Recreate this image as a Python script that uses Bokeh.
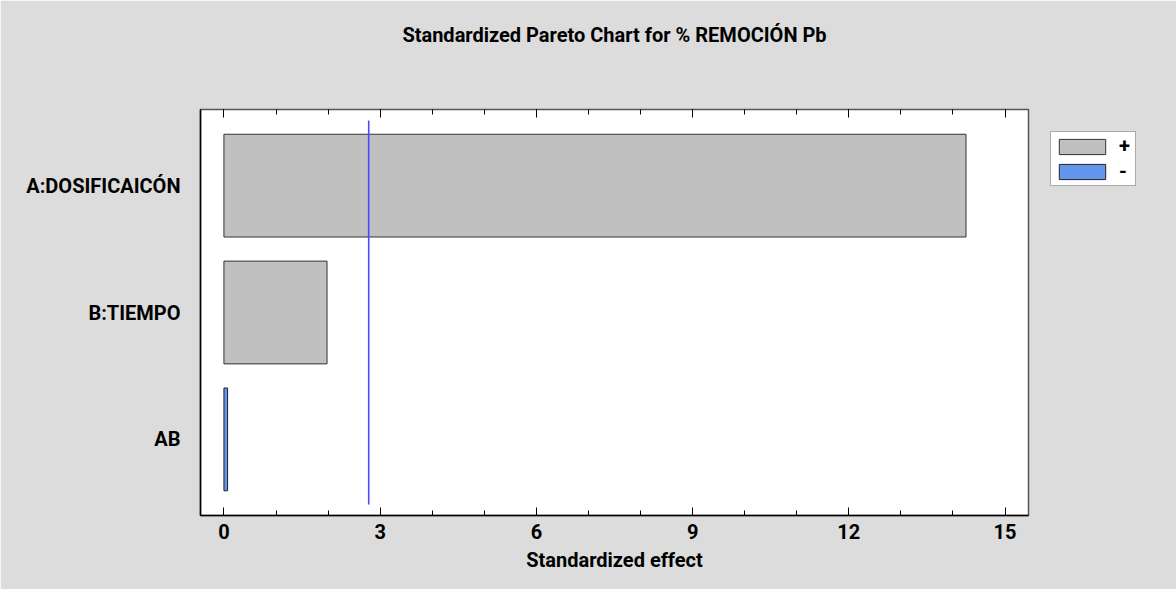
from bokeh.plotting import figure
from bokeh.models import (FactorRange, Range1d, LinearAxis, SingleIntervalTicker,
                          Legend, LegendItem, ColumnDataSource, CustomJSTickFormatter)
from bokeh.embed import file_html
from bokeh.resources import INLINE

# ---- data ----
effects = ["A:DOSIFICAICÓN", "B:TIEMPO", "AB"]
std_effect = [14.25, 1.98, -0.07]
critical_value = 2.78
x_ticks_interval = 3
title_text = "Standardized Pareto Chart for % REMOCIÓN Pb"
x_label = "Standardized effect"

FONT = "Roboto"
POS_COLOR = "#c0c0c0"
NEG_COLOR = "#6495ed"
BG = "#dcdcdc"

pos = dict(y=[e for e, v in zip(effects, std_effect) if v >= 0],
           right=[abs(v) for v in std_effect if v >= 0])
neg = dict(y=[e for e, v in zip(effects, std_effect) if v < 0],
           right=[abs(v) for v in std_effect if v < 0])

p = figure(frame_width=828, frame_height=406,
           x_range=Range1d(-0.45, 15.45),
           y_range=FactorRange(factors=list(reversed(effects)),
                               range_padding=0.1, range_padding_units="absolute"),
           output_backend="svg", toolbar_location=None,
           min_border_left=200, min_border_right=148,
           min_border_top=109, min_border_bottom=74)
p.background_fill_color = "white"
p.border_fill_color = BG
p.outline_line_color = "#555555"
p.outline_line_width = 1.5
p.xgrid.visible = False
p.ygrid.visible = False

r_pos = p.hbar(y="y", left=0, right="right", height=0.81, source=ColumnDataSource(pos),
               fill_color=POS_COLOR, line_color="#333333", line_width=1)
r_neg = p.hbar(y="y", left=0, right="right", height=0.81, source=ColumnDataSource(neg),
               fill_color=NEG_COLOR, line_color="#222222", line_width=1)

p.segment(x0=[critical_value], x1=[critical_value], y0=[-0.013], y1=[3.013],
          line_color="#4a4aff", line_width=1.6)

ticker = SingleIntervalTicker(interval=x_ticks_interval, num_minor_ticks=3)

xa = p.xaxis[0]
xa.ticker = ticker
xa.axis_label = x_label
xa.axis_label_text_font = FONT
xa.axis_label_text_font_style = "bold"
xa.axis_label_text_font_size = "20px"
xa.axis_label_text_color = "black"
xa.axis_label_standoff = 6
xa.major_label_text_font = FONT
xa.major_label_text_font_style = "bold"
xa.major_label_text_font_size = "20px"
xa.major_label_text_color = "black"
xa.major_label_standoff = 8
xa.major_tick_in = 8
xa.major_tick_out = 0
xa.minor_tick_in = 5
xa.minor_tick_out = 0
xa.major_tick_line_color = "black"
xa.minor_tick_line_color = "black"
xa.axis_line_color = "black"
xa.axis_line_width = 1.5

# top axis: inward ticks only, carries the chart title as its label
top = LinearAxis(ticker=ticker, formatter=CustomJSTickFormatter(code="return ''"),
                 major_tick_in=8, major_tick_out=0, minor_tick_in=5, minor_tick_out=0,
                 major_tick_line_color="black", minor_tick_line_color="black",
                 axis_line_color=None, major_label_standoff=0,
                 axis_label=title_text, axis_label_standoff=63,
                 axis_label_text_font=FONT, axis_label_text_font_style="bold",
                 axis_label_text_font_size="20px", axis_label_text_color="black")
p.add_layout(top, "above")

ya = p.yaxis[0]
ya.major_tick_line_color = None
ya.minor_tick_line_color = None
ya.major_tick_in = 0
ya.major_tick_out = 0
ya.axis_line_color = "black"
ya.axis_line_width = 1.5
ya.major_label_text_font = FONT
ya.major_label_text_font_style = "bold"
ya.major_label_text_font_size = "20px"
ya.major_label_text_color = "black"
ya.major_label_standoff = 20

legend = Legend(items=[LegendItem(label="+", renderers=[r_pos]),
                       LegendItem(label="-", renderers=[r_neg])],
                location="top_left", margin=22, padding=2, spacing=1,
                glyph_width=58, glyph_height=19, label_standoff=8, label_width=14,
                label_text_font=FONT, label_text_font_style="bold",
                label_text_font_size="20px", label_text_color="black",
                border_line_color="#555555", border_line_width=1.5,
                background_fill_color="white", background_fill_alpha=1)
p.add_layout(legend, "right")

open("out.html", "w").write(file_html(p, INLINE))
